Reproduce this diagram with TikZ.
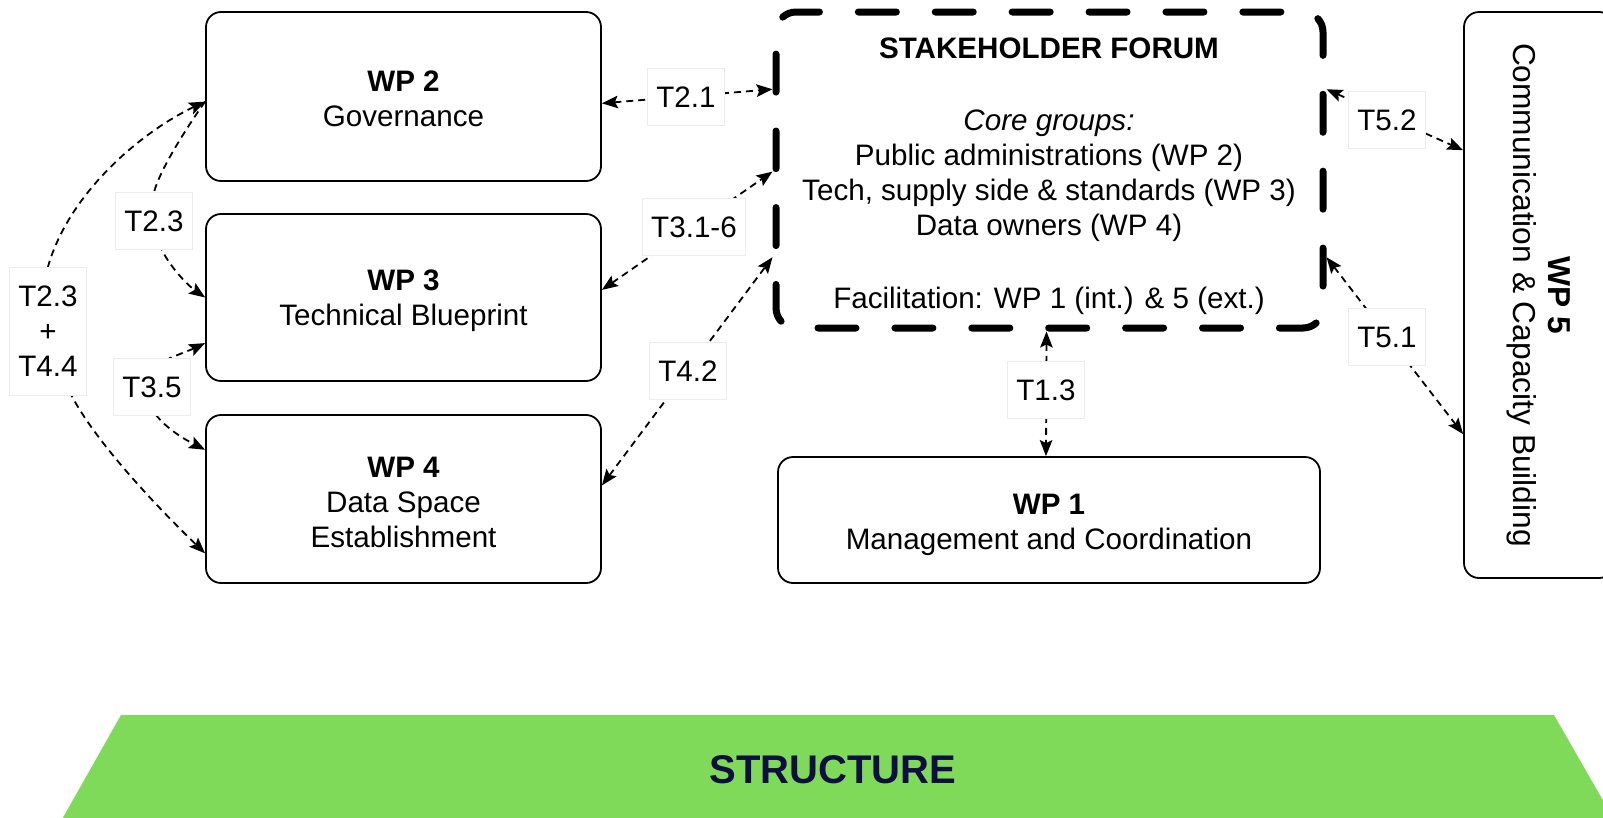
\documentclass[tikz,border=0pt]{standalone}
\usepackage{fontspec}
\setmainfont{Liberation Sans}
\usetikzlibrary{arrows.meta,calc,backgrounds}
\definecolor{sgreen}{HTML}{7FDA5A}
\definecolor{snavy}{HTML}{0E0E40}
\definecolor{lblgray}{HTML}{ECECEC}
\newcommand\myfs{\fontsize{29.6}{35}\selectfont}
\begin{document}
\begin{tikzpicture}[x=1pt,y=-1pt,
  >={Stealth[length=16pt,width=12.5pt,inset=3pt]},
  wpbox/.style={draw=black, line width=1.8pt, rounded corners=15pt, inner sep=0pt},
  lbl/.style={fill=white, draw=lblgray, line width=0.7pt, font=\myfs, inner xsep=9pt, inner ysep=0pt, minimum height=57pt, align=center},
  txt/.style={font=\myfs, align=center, inner sep=0pt},
  conn/.style={line width=1.8pt, dash pattern=on 7pt off 5pt},
  sfdash/.style={line width=7pt, line cap=round, rounded corners=20pt,
                 dash pattern=on 38pt off 38.9pt, dash phase=19pt}
]
\useasboundingbox (0,0) rectangle (1603,817);
\begin{scope}
  \clip (0,0) rectangle (1603,817);
  \fill[sgreen] (121,715) -- (1554,715) -- (1620,830) -- (56,830) -- cycle;
  \node[wpbox, minimum width=150pt, minimum height=566pt] (wp5) at (1539,295) {};
\end{scope}
\node[txt, font=\fontsize{40}{46}\selectfont\bfseries, text=snavy] (structure) at (833,770) {STRUCTURE};
\node[txt, font=\fontsize{31.7}{35}\selectfont, rotate=-90] (wp5t) at (1539,295) {\textbf{WP 5}\\Communication \& Capacity Building};

% stakeholder forum
\node[minimum width=547pt, minimum height=316pt, inner sep=0pt, outer sep=3.5pt] (sf) at (1049.5,170) {};
\draw[sfdash] (776,170) -- (776,12) -- (1323,12) -- (1323,328) -- (776,328) -- cycle;
\node[txt] (sft) at (1049,48) {\textbf{STAKEHOLDER FORUM}};
\node[txt] (sfc) at (1049,175.6) {\textit{Core groups:}\\Public administrations (WP 2)\\Tech, supply side \& standards (WP 3)\\Data owners (WP 4)};
\node[txt] (sff) at (1049,301) {Facilitation: WP 1 (int.) \& 5 (ext.)};

% work packages
\node[wpbox, minimum width=395pt, minimum height=169pt] (wp2) at (403.5,96.5) {};
\node[txt] (wp2t) at (403.5,98.5) {\textbf{WP 2}\\Governance};
\node[wpbox, minimum width=395pt, minimum height=167pt] (wp3) at (403.5,297.5) {};
\node[txt] (wp3t) at (403.5,300.5) {\textbf{WP 3}\\Technical Blueprint};
\node[wpbox, minimum width=395pt, minimum height=168pt] (wp4) at (403.5,499) {};
\node[txt] (wp4t) at (403.5,502) {\textbf{WP 4}\\Data Space\\Establishment};
\node[wpbox, minimum width=542pt, minimum height=126pt] (wp1) at (1049,520) {};
\node[txt] (wp1t) at (1049,525) {\textbf{WP 1}\\Management and Coordination};

% labels
\node[lbl] (l21) at (686,97) {T2.1};
\node[lbl] (l31) at (694,227) {T3.1-6};
\node[lbl] (l42) at (688,371) {T4.2};
\node[lbl] (l13) at (1046,390) {T1.3};
\node[lbl] (l52) at (1387,120) {T5.2};
\node[lbl] (l51) at (1387,337) {T5.1};
\node[lbl] (l23) at (154,221) {T2.3};
\node[lbl] (l35) at (152,387) {T3.5};
\node[lbl, minimum height=128pt] (l2344) at (48,331) {T2.3\\+\\T4.4};

% connectors, behind the labels
\begin{pgfonlayer}{background}
\draw[conn,<->] ($(wp2.north east)!0.54!(wp2.south east)$) -- ($(sf.north west)!0.25!(sf.south west)$);
\draw[conn,<->] ($(wp3.north east)!0.455!(wp3.south east)$) -- ($(sf.north west)!0.505!(sf.south west)$);
\draw[conn,<->] ($(wp4.north east)!0.42!(wp4.south east)$) -- ($(sf.north west)!0.77!(sf.south west)$);
\draw[conn,<->] ([xshift=-3pt]sf.south) -- ([xshift=-3pt]wp1.north);
\draw[conn,<->] ($(sf.north east)!0.25!(sf.south east)$) -- ($(wp5.north west)!0.245!(wp5.south west)$);
\draw[conn,<->] ($(sf.north east)!0.77!(sf.south east)$) -- ($(wp5.north west)!0.745!(wp5.south west)$);

\coordinate (a2) at ($(wp2.north west)!0.53!(wp2.south west)$);
\coordinate (a3) at ($(wp3.north west)!0.77!(wp3.south west)$);
\coordinate (a4t) at ($(wp4.north west)!0.21!(wp4.south west)$);
\coordinate (a4b) at ($(wp4.north west)!0.82!(wp4.south west)$);
\coordinate (l2344b) at ($(l2344.south)!0.6!(l2344.south east)$);
\coordinate (l23b) at ($(l23.south)!0.2!(l23.south east)$);
\coordinate (l35t) at ($(l35.north)!0.45!(l35.north east)$);
\coordinate (l35b) at ($(l35.south)!0.12!(l35.south east)$);
\draw[conn,<->] (a2) .. controls (145,130) and (70,190) .. (l2344.north)
   -- (l2344b) .. controls (95,440) and (150,500) .. (a4b);
\draw[conn,->] (a2) .. controls (185,130) and (160,170) .. (l23.north)
   -- (l23b) .. controls (172,270) and (190,287) .. (wp3.west);
\draw[conn,<->] (a3) .. controls (195,348) and (180,354) .. (l35t)
   -- (l35b) .. controls (170,432) and (190,442) .. (a4t);
\end{pgfonlayer}
\end{tikzpicture}
\end{document}
